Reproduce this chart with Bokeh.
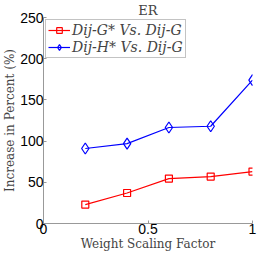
from bokeh.plotting import figure
from bokeh.embed import file_html
from bokeh.resources import INLINE
from bokeh.models import Range1d, FixedTicker, Legend, LegendItem

weight = [0.2, 0.4, 0.6, 0.8, 1.0]
dij_g_star = [23, 37, 54.5, 57, 63]
dij_h_star = [91, 97, 116.5, 118, 174]
x_ticks = [0, 0.5, 1]
y_ticks = [0, 50, 100, 150, 200, 250]

SERIF = "DejaVu Serif"

p = figure(width=258, height=253, output_backend="svg", toolbar_location=None,
           x_range=Range1d(0, 1), y_range=Range1d(0, 250),
           min_border_left=2, min_border_right=6, min_border_top=0, min_border_bottom=0,
           title="ER")
p.title.text_font = SERIF
p.title.text_font_size = "13px"
p.title.text_font_style = "normal"
p.title.align = "center"
p.title.standoff = 0

p.outline_line_color = None
p.grid.visible = False
p.background_fill_color = "white"

for ax in (p.xaxis[0], p.yaxis[0]):
    ax.axis_line_color = "#999999"
    ax.major_tick_out = 0
    ax.major_tick_in = 3
    ax.major_tick_line_color = "#999999"
    ax.minor_tick_line_color = None
    ax.major_label_text_font = "Liberation Sans"
    ax.major_label_text_font_size = "14px"
    ax.major_label_text_color = "black"
    ax.axis_label_text_font = SERIF
    ax.axis_label_text_font_size = "12px"
    ax.axis_label_text_font_style = "normal"
    ax.axis_label_standoff = 0
    ax.major_label_standoff = 0

p.xaxis.ticker = FixedTicker(ticks=x_ticks)
p.yaxis.ticker = FixedTicker(ticks=y_ticks)
p.xaxis.axis_label = "Weight Scaling Factor"
p.yaxis.axis_label = "Increase in Percent (%)"

r1 = p.line(weight, dij_g_star, line_color="#ff0000", line_width=1.2)
m1 = p.scatter(weight, dij_g_star, marker="square", size=7, line_color="#ff0000",
               fill_color=None, line_width=1.2)
r2 = p.line(weight, dij_h_star, line_color="#0000ff", line_width=1.2)
m2 = p.scatter(weight, dij_h_star, marker="diamond", size=11, line_color="#0000ff",
               fill_color=None, line_width=1.2)

legend = Legend(items=[
    LegendItem(label="Dij-G* Vs. Dij-G", renderers=[r1, m1]),
    LegendItem(label="Dij-H* Vs. Dij-G", renderers=[r2, m2]),
], location="top_left")
legend.label_text_font = SERIF
legend.label_text_font_style = "italic"
legend.label_text_font_size = "14px"
legend.label_height = 14
legend.glyph_height = 14
legend.glyph_width = 22
legend.spacing = 1
legend.padding = 2
legend.margin = 2
legend.label_standoff = 2
legend.border_line_color = "#888888"
legend.background_fill_alpha = 1
p.add_layout(legend)

open("out.html", "w").write(file_html(p, INLINE))
